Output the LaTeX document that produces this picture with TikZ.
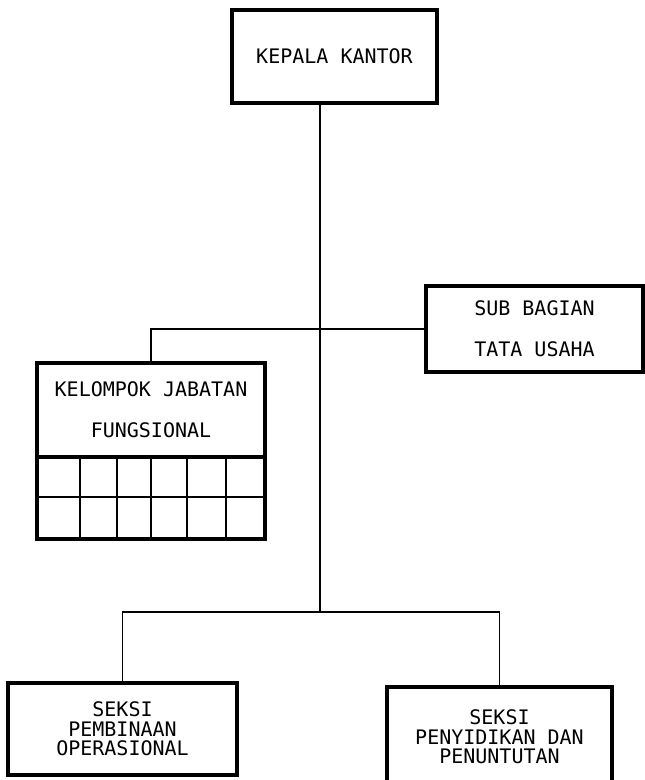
\documentclass[tikz,border=0pt]{standalone}
\usepackage{fontspec}
\newfontfamily\dotfont{DejaVu Sans Mono}
\tikzstyle{unit} = [draw, line width=4pt, inner sep=0pt, outer sep=0pt, align=center, font=\dotfont\fontsize{20}{41}\selectfont]
\tikzstyle{seksi} = [unit, font=\dotfont\fontsize{20}{19.5}\selectfont]
\tikzstyle{link} = [line width=1.5pt]
\tikzstyle{cell} = [line width=2.5pt]
\begin{document}
\begin{tikzpicture}[x=1pt,y=-1pt]
\useasboundingbox (0,0) rectangle (645,780);
\node[unit, minimum width=205, minimum height=93] (kk) at (334.5,56.5) {KEPALA KANTOR};
\node[unit, minimum width=217, minimum height=86] (sbtu) at (534.5,329) {SUB BAGIAN\\TATA USAHA};
\node[unit, minimum width=228, minimum height=94] (kjf) at (151,410) {KELOMPOK JABATAN\\FUNGSIONAL};
\draw[cell] (37,497) -- (265,497);
\foreach \x in {80,117,151,187,226}
  \draw[cell] (\x,457) -- (\x,539);
\draw[line width=4pt] (kjf.south west) rectangle ++(228,82);
\node[seksi, minimum width=229, minimum height=92] (spo) at (122.5,729) {SEKSI\\PEMBINAAN\\OPERASIONAL};
\node[seksi, minimum width=225, minimum height=100] (spp) at (499.5,737) {SEKSI\\PENYIDIKAN DAN\\PENUNTUTAN};
\coordinate (trunk) at (320,612);
\draw[link] (kk.south -| trunk) -- (trunk);
\draw[link] (kjf.north) |- (sbtu.west);
\draw[link] (spo.north) |- (trunk) -| (spp.north);
\end{tikzpicture}
\end{document}
